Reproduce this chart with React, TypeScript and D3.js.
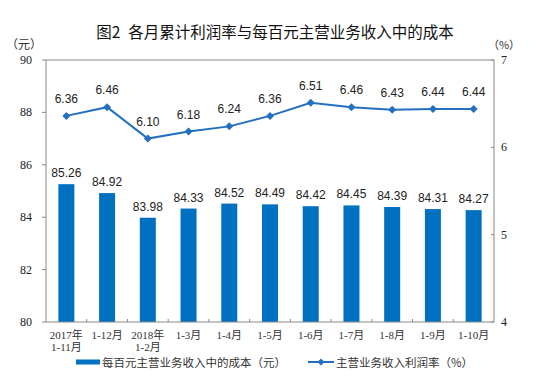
import React from "react";
import * as d3 from "d3";

const categories = [
  ["2017年", "1-11月"],
  ["1-12月"],
  ["2018年", "1-2月"],
  ["1-3月"],
  ["1-4月"],
  ["1-5月"],
  ["1-6月"],
  ["1-7月"],
  ["1-8月"],
  ["1-9月"],
  ["1-10月"],
];
const costValues = [85.26, 84.92, 83.98, 84.33, 84.52, 84.49, 84.42, 84.45, 84.39, 84.31, 84.27];
const profitRate = [6.36, 6.46, 6.1, 6.18, 6.24, 6.36, 6.51, 6.46, 6.43, 6.44, 6.44];
const leftTicks = [80, 82, 84, 86, 88, 90];
const rightTicks = [4, 5, 6, 7];

const W = 550;
const H = 392;
const M = { left: 46, right: 494, top: 60, bottom: 322 };
const BAR = "#0070C0";
const LINE = "#2470C0";
const serif = "'Liberation Serif', 'Times New Roman', serif";
const sans = "'Liberation Sans', Arial, sans-serif";
const cjk = "'Noto Sans CJK SC', sans-serif";
const catFont = "'Liberation Serif', 'Noto Sans CJK SC', serif";

export default function App() {
  const x = d3
    .scaleBand<number>()
    .domain(d3.range(categories.length))
    .range([M.left, M.right]);
  const yL = d3.scaleLinear().domain([80, 90]).range([M.bottom, M.top]);
  const yR = d3.scaleLinear().domain([4, 7]).range([M.bottom, M.top]);
  const bw = 16;
  const line = d3
    .line<number>()
    .x((_, i) => x(i)! + x.bandwidth() / 2)
    .y((d) => yR(d));

  return (
    <svg width={W} height={H} style={{ position: "absolute", left: 0, top: 0, background: "#fff" }}>
      <text x={275} y={38} textAnchor="middle" fontFamily={cjk} fontSize={15.5} fontWeight={400} fill="#111">
        {"图2\u2002各月累计利润率与每百元主营业务收入中的成本"}
      </text>
      <text x={24} y={49} textAnchor="middle" fontFamily={cjk} fontSize={12} fill="#333">（元）</text>
      <text x={504} y={49} textAnchor="middle" fontFamily={cjk} fontSize={11} fill="#333">（%）</text>

      {/* bars */}
      {costValues.map((v, i) => (
        <g key={"b" + i}>
          <rect
            x={x(i)! + x.bandwidth() / 2 - bw / 2}
            y={yL(v)}
            width={bw}
            height={yL(80) - yL(v)}
            fill={BAR}
          />
          <text
            x={x(i)! + x.bandwidth() / 2}
            y={yL(v) - 7}
            textAnchor="middle"
            fontFamily={sans}
            fontSize={12}
            fill="#222"
          >
            {v.toFixed(2)}
          </text>
        </g>
      ))}

      {/* axes frame */}
      <line x1={M.left} x2={M.left} y1={M.top} y2={M.bottom} stroke="#888" />
      <line x1={M.right} x2={M.right} y1={M.top} y2={M.bottom} stroke="#888" />
      <line x1={M.left} x2={M.right} y1={M.top} y2={M.top} stroke="#888" />
      <line x1={M.left} x2={M.right} y1={M.bottom} y2={M.bottom} stroke="#888" />

      {leftTicks.map((t) => (
        <g key={"l" + t}>
          <line x1={M.left - 4} x2={M.left} y1={yL(t)} y2={yL(t)} stroke="#888" />
          <text x={32} y={yL(t) + 4} textAnchor="end" fontFamily={serif} fontSize={12} fill="#222">
            {t}
          </text>
        </g>
      ))}
      {rightTicks.map((t) => (
        <g key={"r" + t}>
          <line x1={M.right - 3} x2={M.right} y1={yR(t)} y2={yR(t)} stroke="#888" />
          <text x={504} y={yR(t) + 4} textAnchor="middle" fontFamily={serif} fontSize={12} fill="#222">
            {t}
          </text>
        </g>
      ))}
      {d3.range(1, categories.length).map((i) => (
        <line key={"xt" + i} x1={x(i)!} x2={x(i)!} y1={M.bottom - 3} y2={M.bottom} stroke="#888" />
      ))}

      {categories.map((c, i) => (
        <text
          key={"c" + i}
          x={x(i)! + x.bandwidth() / 2}
          y={339}
          textAnchor="middle"
          fontFamily={catFont}
          fontSize={11}
          fill="#333"
        >
          {c.map((s, j) => (
            <tspan key={j} x={x(i)! + x.bandwidth() / 2} dy={j === 0 ? 0 : 12}>
              {s}
            </tspan>
          ))}
        </text>
      ))}

      {/* line */}
      <path d={line(profitRate)!} fill="none" stroke={LINE} strokeWidth={2} />
      {profitRate.map((v, i) => {
        const cx = x(i)! + x.bandwidth() / 2;
        const cy = yR(v);
        return (
          <g key={"p" + i}>
            <path d={`M${cx},${cy - 4}L${cx + 4},${cy}L${cx},${cy + 4}L${cx - 4},${cy}Z`} fill={LINE} />
            <text x={cx} y={cy - 13} textAnchor="middle" fontFamily={sans} fontSize={12} fill="#222">
              {v.toFixed(2)}
            </text>
          </g>
        );
      })}

      {/* legend */}
      <rect x={76} y={359.5} width={24} height={5} fill={BAR} />
      <text x={102} y={366.5} fontFamily={cjk} fontSize={11.5} fill="#333">每百元主营业务收入中的成本（元）</text>
      <line x1={308} x2={334} y1={362} y2={362} stroke={LINE} strokeWidth={2} />
      <path d="M321,358.5L324.5,362L321,365.5L317.5,362Z" fill={LINE} />
      <text x={336} y={366.5} fontFamily={cjk} fontSize={11.5} fill="#333">主营业务收入利润率（%）</text>
    </svg>
  );
}
